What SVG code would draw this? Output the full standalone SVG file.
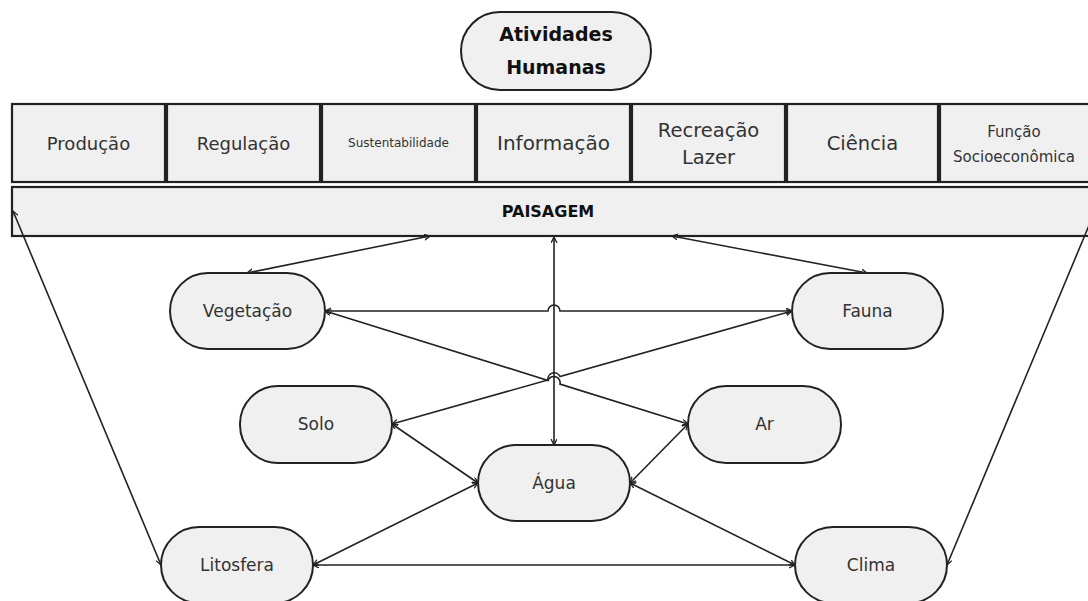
<svg xmlns="http://www.w3.org/2000/svg" width="1088" height="601" viewBox="0 0 1088 601">
<style>
.bg{fill:#ffffff}
.node{fill:#f0f0f0;stroke:#222;stroke-width:2}
.box{fill:#f0f0f0;stroke:#222;stroke-width:2.2}
.t{font-family:"DejaVu Sans",sans-serif;fill:#333;text-anchor:middle;dominant-baseline:central}
.b{font-family:"DejaVu Sans",sans-serif;fill:#111;font-weight:bold;text-anchor:middle;dominant-baseline:central}
.c{fill:none;stroke:#222;stroke-width:1.6;marker-start:url(#arr);marker-end:url(#arr)}
</style>
<defs>
<marker id="arr" markerUnits="userSpaceOnUse" markerWidth="8" markerHeight="8" refX="6" refY="3" orient="auto-start-reverse">
<path d="M0,0 L6,3 L0,6" fill="none" stroke="#222" stroke-width="1.3"/>
</marker>
</defs>
<rect class="bg" x="0" y="0" width="1088" height="601"/>

<g id="atividades">
<rect class="node" x="461" y="12" width="190" height="78" rx="39"/>
<text class="b" x="556" y="34" font-size="19">Atividades</text>
<text class="b" x="556" y="67" font-size="19">Humanas</text>
</g>

<g id="producao"><rect class="box" x="12" y="104" width="153" height="78"/><text class="t" x="88.5" y="143" font-size="18">Produção</text></g>
<g id="regulacao"><rect class="box" x="167" y="104" width="153" height="78"/><text class="t" x="243.5" y="143" font-size="18">Regulação</text></g>
<g id="sustentabilidade"><rect class="box" x="322" y="104" width="153" height="78"/><text class="t" x="398.5" y="143" font-size="12">Sustentabilidade</text></g>
<g id="informacao"><rect class="box" x="477" y="104" width="153" height="78"/><text class="t" x="553.5" y="143" font-size="20">Informação</text></g>
<g id="recreacao"><rect class="box" x="632" y="104" width="153" height="78"/><text class="t" x="708.5" y="130" font-size="19.5">Recreação</text><text class="t" x="708.5" y="157" font-size="19.5">Lazer</text></g>
<g id="ciencia"><rect class="box" x="787" y="104" width="151" height="78"/><text class="t" x="862.5" y="143" font-size="19.5">Ciência</text></g>
<g id="funcao"><rect class="box" x="940" y="104" width="160" height="78"/><text class="t" x="1014" y="132" font-size="15">Função</text><text class="t" x="1014" y="157" font-size="15">Socioeconômica</text></g>

<g id="paisagem"><rect class="box" x="12" y="187" width="1090" height="49"/><text class="b" x="548" y="211" font-size="16">PAISAGEM</text></g>

<g id="connectors">
<path class="c" d="M161,565 L13,211"/>
<path class="c" d="M947,565 L1095,211"/>
<path class="c" d="M247,273 L430,236"/>
<path class="c" d="M867,273 L672,236"/>
<path class="c" d="M554,445 L554,237"/>
<path class="c" d="M325,311 L548,311 A6,6 0 0 1 560,311 L792,311"/>
<path class="c" d="M325,311 L548,380.4 A6.3,6.3 0 0 1 560,384.1 L688,424"/>
<path class="c" d="M392,424 L548,379.9 A6.3,6.3 0 0 1 560,376.5 L792,311"/>
<path class="c" d="M392,424 L478,483"/>
<path class="c" d="M313,565 L478,483"/>
<path class="c" d="M688,424 L630,483"/>
<path class="c" d="M630,483 L795,565"/>
<path class="c" d="M313,565 L795,565"/>
</g>

<g id="vegetacao"><rect class="node" x="170" y="273" width="155" height="76" rx="38"/><text class="t" x="247.5" y="311" font-size="17">Vegetação</text></g>
<g id="fauna"><rect class="node" x="792" y="273" width="151" height="76" rx="38"/><text class="t" x="867.5" y="311" font-size="17">Fauna</text></g>
<g id="solo"><rect class="node" x="240" y="386" width="152" height="77" rx="38"/><text class="t" x="316" y="424" font-size="17">Solo</text></g>
<g id="ar"><rect class="node" x="688" y="386" width="153" height="77" rx="38"/><text class="t" x="764.5" y="424" font-size="17">Ar</text></g>
<g id="agua"><rect class="node" x="478" y="445" width="152" height="76" rx="38"/><text class="t" x="554" y="483" font-size="17">Água</text></g>
<g id="litosfera"><rect class="node" x="161" y="527" width="152" height="76" rx="38"/><text class="t" x="237" y="565" font-size="17">Litosfera</text></g>
<g id="clima"><rect class="node" x="795" y="527" width="152" height="76" rx="38"/><text class="t" x="871" y="565" font-size="17">Clima</text></g>
</svg>
